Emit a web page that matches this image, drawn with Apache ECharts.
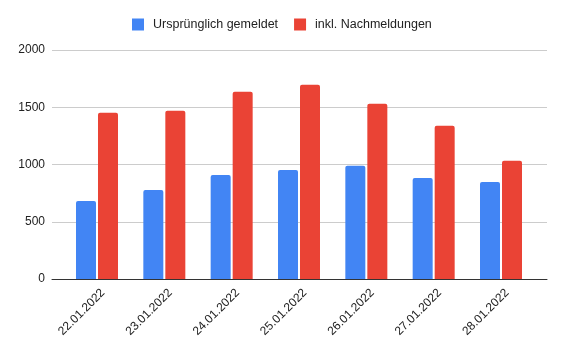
<!DOCTYPE html>
<html>
<head>
<meta charset="utf-8">
<script src="https://cdn.jsdelivr.net/npm/echarts@6/dist/echarts.min.js"></script>
<style>
  html, body { margin: 0; padding: 0; background: #fff; }
  #main { width: 564px; height: 352px; }
</style>
</head>
<body>
<div id="main"></div>
<script>
// Tage und Fallzahlen
var days = ["22.01.2022", "23.01.2022", "24.01.2022", "25.01.2022", "26.01.2022", "27.01.2022", "28.01.2022"];
var original = [682, 778, 909, 953, 988, 883, 848];
var withLate = [1452, 1469, 1635, 1697, 1530, 1338, 1032];
var seriesNames = ["Ursprünglich gemeldet", "inkl. Nachmeldungen"];
var yTicks = [0, 500, 1000, 1500, 2000];

var chart = echarts.init(document.getElementById("main"));
var font = "'Liberation Sans', Arial, sans-serif";
var yMin = yTicks[0], yMax = yTicks[yTicks.length - 1];

chart.setOption({
  animation: false,
  textStyle: { fontFamily: font },
  legend: {
    data: seriesNames,
    top: 18,
    left: 132,
    padding: 0,
    itemWidth: 12,
    itemHeight: 12,
    itemGap: 16,
    icon: "rect",
    textStyle: { fontSize: 12.5, color: "#222", fontFamily: font, padding: [0, 0, 0, 4] }
  },
  // grid 0: gridlines + axis line, grid 1: bars, grid 2: date labels
  grid: [
    { left: 52, right: 17, top: 50, bottom: 73 },
    { left: 63.33, right: 29.33, top: 50, bottom: 73 },
    { left: 69.33, right: 23.33, top: 50, bottom: 73 }
  ],
  xAxis: [
    {
      type: "category", gridIndex: 0, data: days,
      axisLine: { lineStyle: { color: "#333", width: 1 } },
      axisTick: { show: false },
      axisLabel: { show: false }
    },
    {
      type: "category", gridIndex: 1, data: days,
      axisLine: { show: false },
      axisTick: { show: false },
      axisLabel: { show: false }
    },
    {
      type: "category", gridIndex: 2, data: days,
      axisLine: { show: false },
      axisTick: { show: false },
      axisLabel: { rotate: 45, fontSize: 12, color: "#222", margin: 12, fontFamily: font }
    }
  ],
  yAxis: [
    {
      type: "value", gridIndex: 0,
      min: yMin, max: yMax, interval: 500,
      axisLine: { show: false },
      axisTick: { show: false },
      axisLabel: { fontSize: 12, color: "#222", margin: 7, fontFamily: font,
        formatter: function (v) { return String(v); } },
      splitLine: { lineStyle: { color: "#ccc", width: 1 } }
    },
    {
      type: "value", gridIndex: 1,
      min: yMin, max: yMax, interval: 500,
      show: false, splitLine: { show: false }
    },
    {
      type: "value", gridIndex: 2,
      min: yMin, max: yMax, interval: 500,
      show: false, splitLine: { show: false }
    }
  ],
  series: [
    {
      name: seriesNames[0], type: "bar", xAxisIndex: 1, yAxisIndex: 1,
      data: original, barWidth: 20, barGap: "10%",
      itemStyle: { color: "#4285F4", borderRadius: [2, 2, 0, 0] }
    },
    {
      name: seriesNames[1], type: "bar", xAxisIndex: 1, yAxisIndex: 1,
      data: withLate, barWidth: 20, barGap: "10%",
      itemStyle: { color: "#EA4335", borderRadius: [2, 2, 0, 0] }
    }
  ]
});
</script>
</body>
</html>
